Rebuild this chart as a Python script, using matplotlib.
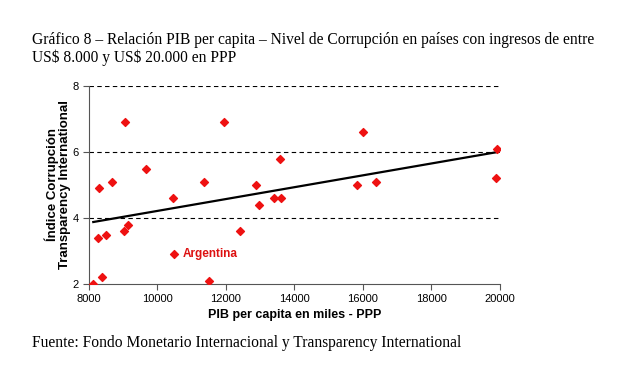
import matplotlib.pyplot as plt
import numpy as np

# PIB per capita (US$ PPP) y indice de corrupcion TI
pib = [8126, 8272, 8292, 8380, 8497, 8662, 9051, 9022, 9148, 9664,
       10453, 10482, 11358, 11504, 11932, 12409, 12867, 12964, 13392,
       13567, 13596, 15817, 16010, 16400, 19933, 19904]
indice = [2.0, 3.40, 4.92, 2.22, 3.48, 5.09, 6.91, 3.61, 3.79, 5.48,
          4.6, 2.92, 5.09, 2.1, 6.91, 3.61, 5.0, 4.39, 4.6,
          5.79, 4.6, 5.0, 6.6, 5.09, 6.09, 5.21]
argentina = 11

x_ticks = [8000, 10000, 12000, 14000, 16000, 18000, 20000]
y_ticks = [2, 4, 6, 8]

fig = plt.figure(figsize=(6.2, 3.67), dpi=100)
ax = fig.add_axes([0.1435, 0.2262, 0.6625, 0.5395])

ax.scatter(pib, indice, marker='D', s=16, color='#ee1111', zorder=3)

# linea de tendencia
m, b = np.polyfit(pib, indice, 1)
xs = np.array([min(pib), 20000])
ax.plot(xs, m * xs + b, color='black', lw=1.6, zorder=2)

ax.text(pib[argentina] + 250, indice[argentina], 'Argentina', color='#dd1111',
        fontsize=8.5, fontweight='bold', family='Liberation Sans', va='center')

ax.set_xlim(8000, 20000)
ax.set_ylim(2, 8)
ax.set_xticks(x_ticks)
ax.set_yticks(y_ticks)
ax.tick_params(labelsize=8, length=4, color='#555555')
for t in ax.get_xticklabels() + ax.get_yticklabels():
    t.set_family('Liberation Sans')
for y in y_ticks[1:]:
    ax.axhline(y, color='black', ls=(0, (4, 3)), lw=0.8, zorder=1)
ax.spines['top'].set_visible(False)
ax.spines['right'].set_visible(False)
ax.spines['left'].set_color('#555555')
ax.spines['bottom'].set_color('#555555')

ax.set_xlabel('PIB per capita en miles - PPP', fontsize=9, fontweight='bold',
              family='Liberation Sans', labelpad=3)
ax.set_ylabel('Índice Corrupción\nTransparency International', fontsize=9.5,
              fontweight='bold', family='Liberation Sans', labelpad=1,
              linespacing=1.0)

fig.text(0.052, 0.866, 'Gráfico 8 – Relación PIB per capita – Nivel de Corrupción en países con ingresos de entre\nUS\\$ 8.000 y US\\$ 20.000 en PPP',
         fontsize=11.2, family='Liberation Serif', va='center', linespacing=1.1)
fig.text(0.052, 0.065, 'Fuente: Fondo Monetario Internacional y Transparency International',
         fontsize=11.2, family='Liberation Serif', va='center')

fig.savefig('out.png', dpi=100)
